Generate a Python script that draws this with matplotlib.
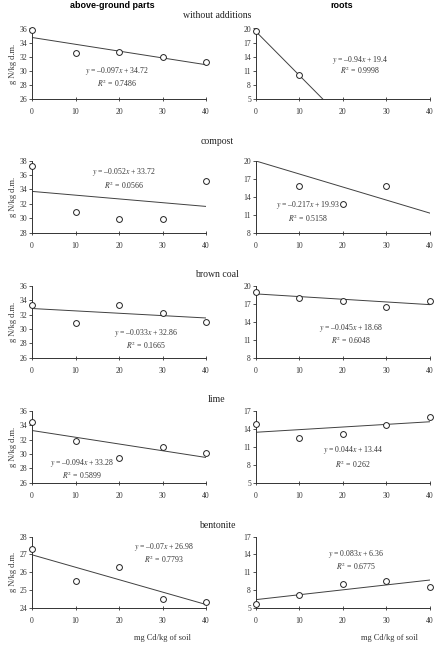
import numpy as np
import matplotlib
matplotlib.use('Agg')
import matplotlib.pyplot as plt

plt.rcParams['font.family'] = ['Liberation Serif', 'DejaVu Serif']
plt.rcParams['mathtext.fontset'] = 'stix'

'''
dados
'''
dose = [0, 10, 20, 30, 40]
secoes = ['without additions', 'compost', 'brown coal', 'lime', 'bentonite']

# parte aerea (above-ground parts)
parte_aerea = [
    [35.8, 32.5, 32.7, 32.0, 31.2],
    [37.2, 30.9, 29.9, 29.9, 35.2],
    [33.3, 30.8, 33.4, 32.3, 31.0],
    [34.4, 31.8, 29.5, 31.0, 30.2],
    [27.3, 25.5, 26.3, 24.5, 24.3],
]
eq_aerea = [(-0.097, 34.72, '0.7486'), (-0.052, 33.72, '0.0566'), (-0.033, 32.86, '0.1665'),
            (-0.094, 33.28, '0.5899'), (-0.07, 26.98, '0.7793')]
ylim_aerea = [(26, 36, 2), (28, 38, 2), (26, 36, 2), (26, 36, 2), (24, 28, 1)]

# raizes (roots) - None = fora da escala
raizes = [
    [19.45, 10.1, None, None, None],
    [None, 15.8, 12.8, 15.8, None],
    [19.0, 18.05, 17.45, 16.55, 17.5],
    [14.85, 12.5, 13.2, 14.7, 15.95],
    [5.6, 7.2, 8.95, 9.55, 8.55],
]
eq_raizes = [(-0.94, 19.4, '0.9998'), (-0.217, 19.93, '0.5158'), (-0.045, 18.68, '0.6048'),
             (0.044, 13.44, '0.262'), (0.083, 6.36, '0.6775')]
ylim_raizes = [(5, 20, 3), (8, 20, 3), (8, 20, 3), (5, 17, 3), (5, 17, 3)]

# posicoes dos textos das equacoes (fracao do eixo): x, y da equacao, y do R2
txt_aerea = [(0.49, 0.39, 0.22), (0.53, 0.835, 0.655), (0.654, 0.35, 0.17),
             (0.29, 0.275, 0.11), (0.757, 0.855, 0.676)]
txt_raizes = [(0.60, 0.55, 0.40), (0.30, 0.38, 0.20), (0.545, 0.41, 0.24),
              (0.56, 0.456, 0.25), (0.578, 0.76, 0.58)]

'''
layout
'''
W, H = 435, 657
fig = plt.figure(figsize=(W / 100, H / 100), dpi=100)

linhas_px = [(28.5, 98.7), (160.5, 232.7), (286, 357.7), (411, 482.7), (536.7, 607.7)]
secao_y = [16, 142, 275, 400, 526]
cinza = '#333333'

def monta_eixo(ax, xs, ys, eq, lim, txt, ylabel):
    a, b, r2 = eq
    xx = np.array([0, 40])
    ax.plot(xx, a * xx + b, color='#404040', lw=0.7)
    px = [x for x, y in zip(xs, ys) if y is not None]
    py = [y for y in ys if y is not None]
    ax.plot(px, py, 'o', mfc='white', mec='#222222', ms=4.2, mew=0.7, clip_on=False, zorder=5)
    ax.set_xlim(0, 40)
    ax.set_ylim(lim[0], lim[1])
    ax.set_xticks(dose)
    ax.set_yticks(np.arange(lim[0], lim[1] + 0.01, lim[2]))
    for s in ['top', 'right']:
        ax.spines[s].set_visible(False)
    for s in ['left', 'bottom']:
        ax.spines[s].set_linewidth(0.7)
        ax.spines[s].set_color(cinza)
    ax.tick_params(axis='x', direction='inout', length=3, width=0.6, labelsize=5.5, pad=5, colors=cinza)
    ax.tick_params(axis='y', direction='out', length=2, width=0.6, labelsize=5.5, pad=1.5, colors=cinza)
    sinal = '\u2013' if a < 0 else ''
    txt_eq = '$y$ = %s%g$x$ + %g' % (sinal, abs(a), b)
    ax.text(txt[0], txt[1], txt_eq, transform=ax.transAxes, ha='center', va='center', fontsize=5.6, color=cinza)
    ax.text(txt[0], txt[2], '$R^2$ = ' + r2, transform=ax.transAxes, ha='center', va='center', fontsize=5.6, color=cinza)
    if ylabel:
        ax.set_ylabel('g N/kg d.m.', fontsize=6, labelpad=2, color=cinza)

for i in range(5):
    topo, base = linhas_px[i]
    y0 = 1 - base / H
    h = (base - topo) / H
    ax1 = fig.add_axes([32 / W, y0, 174 / W, h])
    monta_eixo(ax1, dose, parte_aerea[i], eq_aerea[i], ylim_aerea[i], txt_aerea[i], True)
    ax2 = fig.add_axes([255.7 / W, y0, 174.3 / W, h])
    monta_eixo(ax2, dose, raizes[i], eq_raizes[i], ylim_raizes[i], txt_raizes[i], False)
    fig.text(217 / W, 1 - secao_y[i] / H, secoes[i], ha='center', va='center', fontsize=7, color='#222222')
    if i == 4:
        ax1.set_xlabel('mg Cd/kg of soil', fontsize=6, color=cinza)
        ax1.xaxis.set_label_coords(0.75, -0.37)
        ax2.set_xlabel('mg Cd/kg of soil', fontsize=6, color=cinza)
        ax2.xaxis.set_label_coords(0.77, -0.37)

# titulos das colunas
fig.text(112 / W, 1 - 5 / H, 'above-ground parts', ha='center', va='center', fontsize=6.5,
         fontweight='bold', family=['Liberation Sans', 'DejaVu Sans'])
fig.text(342 / W, 1 - 5 / H, 'roots', ha='center', va='center', fontsize=6.5,
         fontweight='bold', family=['Liberation Sans', 'DejaVu Sans'])

plt.savefig('out.png', dpi=100)
